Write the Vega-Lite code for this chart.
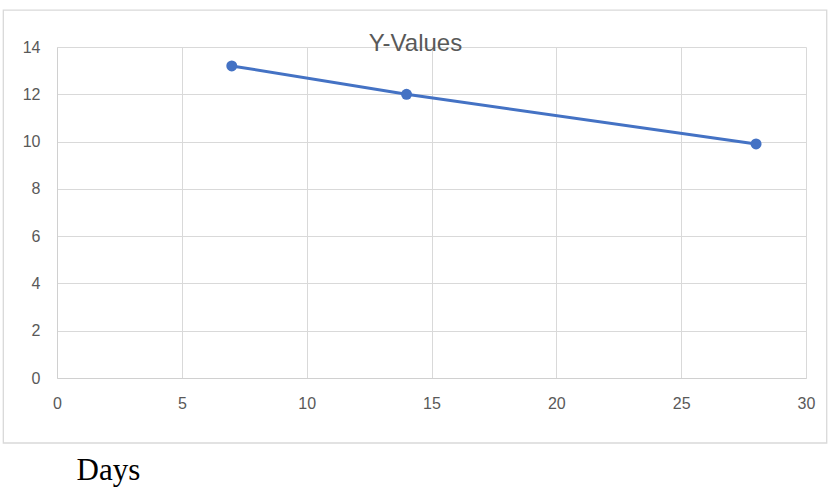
{
  "$schema": "https://vega.github.io/schema/vega-lite/v6.json",
  "autosize": "none",
  "width": 749,
  "height": 331,
  "padding": {"left": 57, "top": 47, "right": 27, "bottom": 116},
  "background": "white",
  "title": {
    "text": "Y-Values",
    "font": "Liberation Sans",
    "fontSize": 24,
    "fontWeight": "normal",
    "color": "#595959",
    "anchor": "middle",
    "baseline": "alphabetic",
    "offset": -66,
    "dx": -16
  },
  "data": {
    "values": [
      {"Days": 7, "Y": 13.2},
      {"Days": 14, "Y": 12.0},
      {"Days": 28, "Y": 9.9}
    ]
  },
  "config": {
    "view": {"stroke": null},
    "axis": {
      "labelFont": "Liberation Sans",
      "labelFontSize": 16,
      "labelColor": "#595959",
      "grid": true,
      "gridColor": "#d9d9d9",
      "gridWidth": 1,
      "domainColor": "#d0d0d0",
      "ticks": false,
      "labelFlush": false
    }
  },
  "layer": [
    {
      "mark": {"type": "line", "color": "#4472C4", "strokeWidth": 3},
      "encoding": {
        "x": {
          "field": "Days", "type": "quantitative",
          "scale": {"domain": [0, 30], "nice": false, "zero": false},
          "axis": {
            "grid": true,
            "values": [0, 5, 10, 15, 20, 25, 30],
            "labelPadding": 17,
            "labelFlush": false,
            "title": "Days",
            "titleFont": "Liberation Serif",
            "titleFontSize": 31,
            "titleFontWeight": "normal",
            "titleColor": "#000000",
            "titleAnchor": "start",
            "titleAlign": "left",
            "titleBaseline": "alphabetic",
            "titleX": 19,
            "titleY": 101
          }
        },
        "y": {
          "field": "Y", "type": "quantitative",
          "scale": {"domain": [0, 14], "nice": false},
          "axis": {"grid": true, "values": [0, 2, 4, 6, 8, 10, 12, 14], "labelPadding": 17, "title": null}
        }
      }
    },
    {
      "mark": {"type": "point", "filled": true, "color": "#4472C4", "size": 120, "opacity": 1},
      "encoding": {
        "x": {"field": "Days", "type": "quantitative"},
        "y": {"field": "Y", "type": "quantitative"}
      }
    },
    {
      "mark": {"type": "rect", "fill": null, "stroke": "#d9d9d9", "strokeWidth": 1.3, "clip": false},
      "data": {"values": [{}]},
      "encoding": {
        "x": {"datum": -2.15, "type": "quantitative"},
        "x2": {"datum": 30.83},
        "y": {"datum": 15.56, "type": "quantitative"},
        "y2": {"datum": -2.75}
      }
    }
  ]
}
